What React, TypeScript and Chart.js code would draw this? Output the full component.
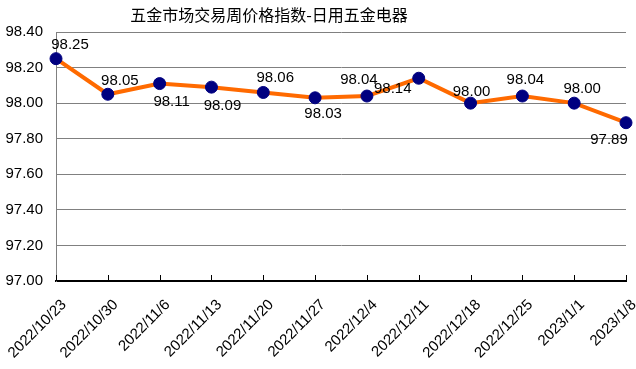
import React, { useEffect, useRef } from "react";
import { Chart, registerables } from "chart.js";

Chart.register(...registerables);

const titleText = "五金市场交易周价格指数-日用五金电器";
const categories = [
  "2022/10/23", "2022/10/30", "2022/11/6", "2022/11/13", "2022/11/20", "2022/11/27",
  "2022/12/4", "2022/12/11", "2022/12/18", "2022/12/25", "2023/1/1", "2023/1/8",
];
const values = [98.25, 98.05, 98.11, 98.09, 98.06, 98.03, 98.04, 98.14, 98.0, 98.04, 98.0, 97.89];
const yMin = 97.0;
const yMax = 98.4;
const yStep = 0.2;

// label offsets relative to each point (dx, dy)
const labelOffsets: [number, number][] = [
  [14, -14], [12, -13], [12, 18], [11, 19], [12, -15], [8, 16],
  [-8, -16], [-26, 11], [1, -11], [3, -16], [8, -14], [-17, 17],
];

const FONT = "'Liberation Sans', Arial, sans-serif";

export default function App() {
  const ref = useRef<HTMLCanvasElement | null>(null);
  useEffect(() => {
    if (!ref.current) return;
    const titlePlugin = {
      id: "customTitle",
      afterDraw(chart: any) {
        const ctx = chart.ctx;
        ctx.save();
        ctx.font = "16px 'Noto Sans CJK SC', sans-serif";
        ctx.fillStyle = "#000";
        ctx.textAlign = "center";
        ctx.textBaseline = "middle";
        ctx.fillText(titleText, 269, 15);
        ctx.restore();
      },
    };
    const innerTicks = {
      id: "innerTicks",
      beforeDatasetsDraw(chart: any) {
        const ctx = chart.ctx;
        const xs = chart.scales.x;
        const bottom = chart.chartArea.bottom;
        ctx.save();
        ctx.strokeStyle = "#000";
        ctx.lineWidth = 1;
        for (let i = 0; i < xs.ticks.length; i++) {
          const x = Math.round(xs.getPixelForTick(i)) + 0.5;
          ctx.beginPath();
          ctx.moveTo(x, bottom);
          ctx.lineTo(x, bottom - 6);
          ctx.stroke();
        }
        ctx.restore();
      },
    };
    const dataLabels = {
      id: "dataLabels",
      afterDatasetsDraw(chart: any) {
        const ctx = chart.ctx;
        const meta = chart.getDatasetMeta(0);
        ctx.save();
        ctx.font = "15px " + FONT;
        ctx.fillStyle = "#000";
        ctx.textAlign = "center";
        ctx.textBaseline = "middle";
        meta.data.forEach((pt: any, i: number) => {
          const [dx, dy] = labelOffsets[i];
          ctx.fillText(values[i].toFixed(2), pt.x + dx, pt.y + dy);
        });
        ctx.restore();
      },
    };
    const chart = new Chart(ref.current, {
      type: "line",
      data: {
        labels: categories,
        datasets: [
          {
            data: values,
            borderColor: "#FF6A00",
            borderWidth: 4,
            pointBackgroundColor: "#000080",
            pointBorderColor: "#000080",
            pointRadius: 6,
            pointBorderWidth: 1,
            tension: 0,
          },
        ],
      },
      options: {
        animation: false,
        responsive: false,
        maintainAspectRatio: false,
        layout: { padding: { top: 32, right: 10, left: 0, bottom: 0 } },
        plugins: {
          legend: { display: false },
          title: { display: false },
          tooltip: { enabled: false },
        },
        scales: {
          x: {
            offset: false,
            grid: { display: false, drawTicks: false },
            border: { color: "#000", width: 2 },
            ticks: {
              minRotation: 45,
              maxRotation: 45,
              autoSkip: false,
              color: "#000",
              font: { family: FONT, size: 15 },
              padding: 15,
              labelOffset: 8,
            },
            afterFit(scale: any) {
              scale.height = 88;
              scale.paddingLeft = 0;
              scale.paddingRight = 0;
            },
          },
          y: {
            min: yMin,
            max: yMax,
            grid: { color: "#808080", lineWidth: 1, drawTicks: false },
            border: { color: "#808080", width: 1 },
            ticks: {
              stepSize: yStep,
              color: "#000",
              font: { family: FONT, size: 15 },
              padding: 13,
              callback: (v: any) => Number(v).toFixed(2),
            },
            afterFit(scale: any) {
              scale.width = 56;
            },
          },
        },
      },
      plugins: [innerTicks, dataLabels, titlePlugin],
    });
    return () => chart.destroy();
  }, []);
  return (
    <div style={{ position: "fixed", left: 0, top: 0, width: 636, height: 369, background: "#fff" }}>
      <canvas ref={ref} width={636} height={369} style={{ width: 636, height: 369 }} />
    </div>
  );
}
